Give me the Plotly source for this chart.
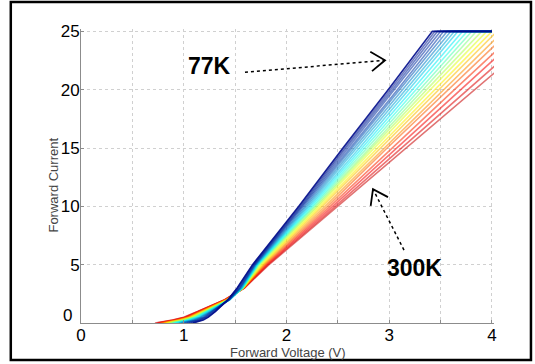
import plotly.graph_objects as go
from plotly.colors import sample_colorscale

# Current levels (A) at which each temperature curve's forward voltage is tabulated
current_levels = [0, 0.25, 0.5, 1, 2, 3, 5, 10, 15, 20, 25]

# Temperatures (K) of the sweep family
temperatures = [77, 87, 97, 107, 117, 128, 138, 148, 158, 168, 178, 189,
                199, 209, 219, 229, 239, 249, 259, 270, 280, 290, 300]

# Forward voltage (V) at each current level, one row per temperature
voltages = [
    [1.09, 1.19, 1.24, 1.31, 1.43, 1.52, 1.67, 2.12, 2.55, 2.99, 3.42],
    [1.07, 1.175, 1.23, 1.305, 1.43, 1.525, 1.675, 2.13, 2.565, 3.01, 3.445],
    [1.05, 1.16, 1.22, 1.30, 1.435, 1.53, 1.68, 2.14, 2.58, 3.03, 3.47],
    [1.03, 1.145, 1.21, 1.29, 1.44, 1.54, 1.685, 2.15, 2.60, 3.055, 3.50],
    [1.01, 1.13, 1.20, 1.28, 1.44, 1.545, 1.69, 2.16, 2.62, 3.08, 3.53],
    [0.99, 1.115, 1.185, 1.275, 1.445, 1.55, 1.695, 2.175, 2.64, 3.105, 3.565],
    [0.97, 1.10, 1.17, 1.27, 1.445, 1.555, 1.70, 2.19, 2.66, 3.13, 3.60],
    [0.955, 1.085, 1.16, 1.26, 1.45, 1.56, 1.705, 2.205, 2.685, 3.16, 3.635],
    [0.94, 1.07, 1.15, 1.25, 1.45, 1.565, 1.71, 2.22, 2.71, 3.19, 3.67],
    [0.92, 1.055, 1.135, 1.24, 1.445, 1.57, 1.715, 2.235, 2.735, 3.225, 3.715],
    [0.90, 1.04, 1.12, 1.23, 1.445, 1.57, 1.72, 2.25, 2.76, 3.26, 3.76],
    [0.885, 1.025, 1.11, 1.225, 1.44, 1.575, 1.725, 2.265, 2.785, 3.295, 3.805],
    [0.87, 1.01, 1.10, 1.22, 1.44, 1.575, 1.73, 2.28, 2.81, 3.33, 3.85],
    [0.855, 1.00, 1.09, 1.21, 1.435, 1.575, 1.74, 2.295, 2.835, 3.365, 3.90],
    [0.84, 0.99, 1.08, 1.20, 1.43, 1.58, 1.75, 2.31, 2.86, 3.40, 3.95],
    [0.825, 0.975, 1.07, 1.19, 1.425, 1.58, 1.76, 2.33, 2.89, 3.445, 4.00],
    [0.81, 0.96, 1.06, 1.18, 1.42, 1.58, 1.77, 2.35, 2.92, 3.49, 4.05],
    [0.795, 0.95, 1.05, 1.175, 1.415, 1.58, 1.78, 2.375, 2.95, 3.535, 4.11],
    [0.78, 0.94, 1.04, 1.17, 1.41, 1.585, 1.79, 2.40, 2.98, 3.58, 4.17],
    [0.765, 0.925, 1.03, 1.16, 1.405, 1.585, 1.80, 2.425, 3.025, 3.635, 4.245],
    [0.75, 0.91, 1.02, 1.15, 1.40, 1.585, 1.81, 2.45, 3.07, 3.69, 4.32],
    [0.735, 0.90, 1.01, 1.145, 1.40, 1.59, 1.82, 2.475, 3.12, 3.765, 4.41],
    [0.72, 0.89, 1.00, 1.14, 1.40, 1.59, 1.83, 2.50, 3.17, 3.84, 4.50],
]

# Sweep end voltage and current compliance
v_end = 4.0
i_limit = 25

x_ticks = [0, 1, 2, 3, 4]
y_ticks = [0, 5, 10, 15, 20, 25]
# the y-axis "0" is set slightly above the corner, so it is drawn separately
y_tick_text = ["", "5", "10", "15", "20", "25"]

fig = go.Figure()

t_min, t_max = min(temperatures), max(temperatures)
# draw hot curves first so the cold (blue) ones sit on top
for temp, row in reversed(list(zip(temperatures, voltages))):
    frac = (temp - t_min) / (t_max - t_min)
    color = sample_colorscale("Jet", [0.04 + 0.84 * frac])[0]
    xs = list(row) + [max(v_end, row[-1])]
    ys = list(current_levels) + [i_limit]
    fig.add_trace(go.Scatter(
        x=xs, y=ys, mode="lines",
        line=dict(color=color, width=1.6),
        opacity=0.9 if temp == t_min else 0.55,
        showlegend=False, hoverinfo="skip",
    ))

grid = dict(gridcolor="#d0d0d0", griddash="dot", gridwidth=1)
tick_font = dict(family="Liberation Sans, Arial", size=17, color="black")
axis_common = dict(
    showline=True, linecolor="#8c8c8c", linewidth=1,
    ticks="inside", ticklen=3, tickcolor="#8c8c8c",
    tickfont=tick_font, zeroline=False, showgrid=True, **grid,
)

fig.update_xaxes(range=[0, 4.02], tickvals=x_ticks, ticklabelstandoff=-3,
                 minor=dict(dtick=0.5, showgrid=True, ticks="inside", ticklen=3,
                            tickcolor="#8c8c8c", **grid),
                 **axis_common)
fig.update_yaxes(range=[0, 25.2], tickvals=y_ticks, ticktext=y_tick_text,
                 ticklabelstandoff=-3, **axis_common)

label_font = dict(family="Liberation Sans, Arial", size=13, color="#444444")
big_font = dict(family="Liberation Sans, Arial", size=23, color="black")

annotations = [
    dict(text="0", xref="paper", yref="y", x=-0.018, y=y_ticks[0], yshift=8,
         showarrow=False, font=tick_font, xanchor="right", yanchor="middle"),
    dict(text="Forward Voltage (V)", xref="paper", yref="paper", x=0.5, y=-0.1,
         showarrow=False, font=label_font, xanchor="center", yanchor="middle"),
    dict(text="Forward Current", xref="paper", yref="paper", x=-0.066, y=0.47,
         showarrow=False, font=label_font, textangle=-90,
         xanchor="center", yanchor="middle"),
    dict(text="<b>77K</b>", x=1.246, y=22.0, showarrow=False, font=big_font,
         xanchor="center", yanchor="middle"),
    dict(text="<b>300K</b>", x=3.25, y=4.7, showarrow=False, font=big_font,
         xanchor="center", yanchor="middle"),
]

# dotted pointers from the labels to the curve family
pointers = [
    ((1.596, 21.49), (2.959, 22.52), "M -13 -10.9 L 0 0 L -14.7 8.5"),
    ((3.144, 6.25), (2.842, 11.47), "M 15 -7.9 L 0 0 L -2.3 -16.8"),
]
shapes = []
for (x0, y0), (x1, y1), head in pointers:
    shapes.append(dict(type="line", x0=x0, y0=y0, x1=x1, y1=y1,
                       line=dict(color="black", width=1.5, dash="dot")))
    shapes.append(dict(type="path", xsizemode="pixel", ysizemode="pixel",
                       xanchor=x1, yanchor=y1, path=head,
                       line=dict(color="black", width=1.8)))

# outer frame around the whole figure
shapes.append(dict(type="rect", xref="paper", yref="paper",
                   x0=-0.170, x1=1.0895, y0=-0.126, y1=1.092,
                   line=dict(color="black", width=2.5)))

fig.update_layout(
    width=535, height=364,
    margin=dict(l=81, r=41, t=29, b=41),
    paper_bgcolor="white", plot_bgcolor="white",
    annotations=annotations, shapes=shapes,
    showlegend=False,
)

fig.write_html("out.html")
